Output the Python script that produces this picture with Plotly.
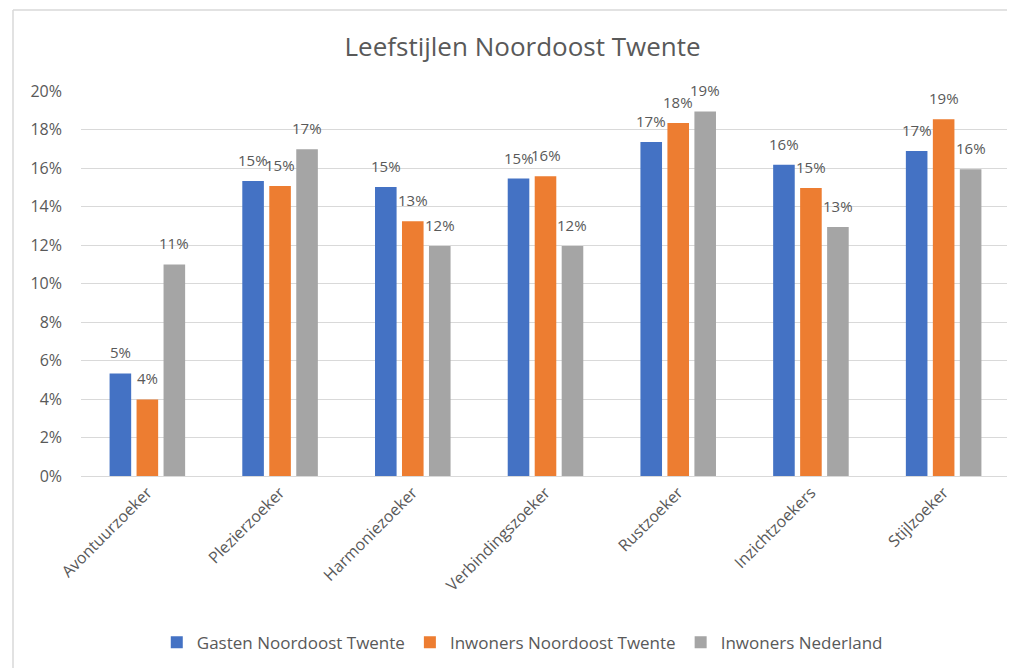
import plotly.graph_objects as go

categories = ["Avontuurzoeker", "Plezierzoeker", "Harmoniezoeker", "Verbindingszoeker",
              "Rustzoeker", "Inzichtzoekers", "Stijlzoeker"]
gasten_not = [0.0533, 0.1533, 0.1501, 0.1545, 0.1735, 0.1617, 0.1688]
inwoners_not = [0.0398, 0.1507, 0.1323, 0.1557, 0.1834, 0.1496, 0.1853]
inwoners_nl = [0.1099, 0.1697, 0.1195, 0.1195, 0.1894, 0.1294, 0.1593]
series_names = ["Gasten Noordoost Twente", "Inwoners Noordoost Twente", "Inwoners Nederland"]
series_colors = ["#4472C4", "#ED7D31", "#A5A5A5"]
y_ticks = [0, 0.02, 0.04, 0.06, 0.08, 0.10, 0.12, 0.14, 0.16, 0.18, 0.20]

FONT = "Open Sans"
TXT = "#595959"

W, H = 1007, 660
ML, MR, MT, MB = 73, 5, 83, 192
BARGAP = 0.39
all_series = [gasten_not, inwoners_not, inwoners_nl]

fig = go.Figure()
for name, vals, col in zip(series_names, all_series, series_colors):
    fig.add_trace(go.Bar(
        x=categories, y=vals, name=name,
        marker=dict(color=col, line=dict(width=0)),
        cliponaxis=False,
    ))

# data labels above each bar (offset derived from the group layout)
plot_w = W - ML - MR
slot = plot_w / len(categories) * (1 - BARGAP) / len(all_series)
for i, vals in enumerate(all_series):
    for cat, v in zip(categories, vals):
        fig.add_annotation(
            x=cat, y=v, text=f"{round(v * 100):.0f}%", showarrow=False,
            xanchor="center", yanchor="bottom",
            xshift=(i - (len(all_series) - 1) / 2) * slot, yshift=9,
            font=dict(family=FONT, size=15, color=TXT),
        )

fig.update_layout(
    width=W, height=H,
    margin=dict(l=ML, r=MR, t=MT, b=MB),
    paper_bgcolor="white", plot_bgcolor="white",
    barmode="group", bargap=BARGAP, bargroupgap=0.2,
    title=dict(text="Leefstijlen Noordoost Twente", x=0.511, xanchor="center",
               y=0.941, yanchor="middle",
               font=dict(family=FONT, size=26, color=TXT)),
    font=dict(family=FONT, size=16, color=TXT),
    legend=dict(orientation="h", x=0.475, xanchor="center", y=-0.433, yanchor="middle",
                font=dict(family=FONT, size=17, color=TXT), traceorder="normal",
                itemwidth=30),
    showlegend=True,
    shapes=[
        dict(type="line", xref="paper", yref="paper", x0=-0.0732, x1=-0.0732, y0=1.2104, y1=-0.6,
             line=dict(color="#d9d9d9", width=1.5)),
        dict(type="line", xref="paper", yref="paper", x0=-0.0732, x1=1.1, y0=1.2104, y1=1.2104,
             line=dict(color="#d9d9d9", width=1.5)),
    ],
)
fig.update_yaxes(range=[0, 0.2], tickvals=y_ticks, tickformat=".0%",
                 showgrid=True, gridcolor="#d9d9d9", gridwidth=1,
                 zeroline=True, zerolinecolor="#d9d9d9", zerolinewidth=1,
                 showline=False, ticks="", ticklabelstandoff=18,
                 tickfont=dict(family=FONT, size=16, color=TXT))
fig.update_xaxes(tickangle=-45, showline=True, linecolor="#d9d9d9", linewidth=1,
                 ticks="", tickfont=dict(family=FONT, size=16, color=TXT))

fig.write_html("out.html")
